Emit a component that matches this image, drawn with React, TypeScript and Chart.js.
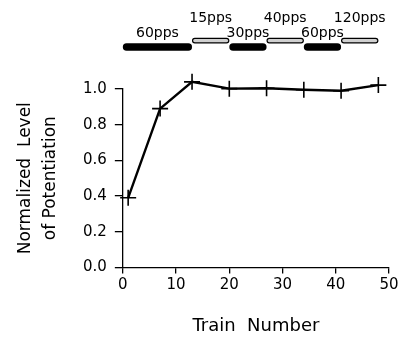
import React, { useEffect, useRef } from "react";
import { Chart, registerables } from "chart.js";

Chart.register(...registerables);

const trainNumbers = [1, 7, 13, 20, 27, 34, 41, 48];
const potentiation = [0.39, 0.89, 1.04, 1.002, 1.004, 0.996, 0.99, 1.022];
const xTicks = [0, 10, 20, 30, 40, 50];
const yTicks = [0, 0.2, 0.4, 0.6, 0.8, 1.0];

const protocolStarts = [0, 13, 20, 27, 34, 41];
const protocolEnds = [13, 20, 27, 34, 41, 48];
const protocolLabels = ["60pps", "15pps", "30pps", "40pps", "60pps", "120pps"];
const protocolFilled = [true, false, true, false, true, false];

const FONT = "'DejaVu Sans', sans-serif";

const protocolPlugin = {
  id: "protocolBars",
  afterDraw(chart: any) {
    const ctx = chart.ctx;
    const xs = chart.scales.x;
    ctx.save();
    protocolStarts.forEach((s, i) => {
      const x0 = xs.getPixelForValue(s);
      const x1 = xs.getPixelForValue(protocolEnds[i]);
      const filled = protocolFilled[i];
      ctx.beginPath();
      if (filled) {
        const y = 43.3, h = 7.5;
        ctx.roundRect(x0, y, x1 - x0, h, h / 2);
        ctx.fillStyle = "#000";
        ctx.fill();
      } else {
        const y = 38.3, h = 4.6;
        ctx.roundRect(x0 + 0.5, y, x1 - x0 - 1, h, h / 2);
        ctx.fillStyle = "#d0d0d0";
        ctx.fill();
        ctx.lineWidth = 1.2;
        ctx.strokeStyle = "#000";
        ctx.stroke();
      }
      ctx.fillStyle = "#000";
      ctx.font = "14px " + FONT;
      ctx.textAlign = "center";
      ctx.textBaseline = "alphabetic";
      const cx = (x0 + x1) / 2;
      ctx.fillText(protocolLabels[i], cx, filled ? 36.5 : 21.5);
    });
    ctx.restore();
  },
};

export default function App() {
  const ref = useRef<HTMLCanvasElement>(null);
  useEffect(() => {
    if (!ref.current) return;
    const chart = new Chart(ref.current, {
      type: "line",
      data: {
        datasets: [
          {
            data: trainNumbers.map((x, i) => ({ x, y: potentiation[i] })),
            borderColor: "#000",
            borderWidth: 2.4,
            pointStyle: "cross",
            pointRadius: 8,
            pointBorderWidth: 1.6,
            pointBorderColor: "#000",
            pointBackgroundColor: "#000",
            tension: 0,
            clip: false as any,
          },
        ],
      },
      options: {
        animation: false,
        responsive: false,
        layout: { padding: { top: 89, right: 19, left: 13, bottom: 0 } },
        plugins: { legend: { display: false }, tooltip: { enabled: false } },
        scales: {
          x: {
            type: "linear",
            min: 0,
            max: 50,
            afterBuildTicks: (axis: any) => {
              axis.ticks = xTicks.map((v) => ({ value: v }));
            },
            grid: { display: true, drawOnChartArea: false, drawTicks: true, tickLength: 6, color: "#000", lineWidth: 1.3 },
            border: { display: true, color: "#000", width: 1.3 },
            ticks: { color: "#000", font: { family: FONT, size: 15 }, padding: 3, maxRotation: 0 },
            title: {
              display: true,
              text: "Train  Number",
              color: "#000",
              font: { family: FONT, size: 18 },
              padding: { top: 18, bottom: 0 },
            },
          },
          y: {
            type: "linear",
            min: 0,
            max: 1.0,
            afterBuildTicks: (axis: any) => {
              axis.ticks = yTicks.map((v) => ({ value: v }));
            },
            grid: { display: true, drawOnChartArea: false, drawTicks: true, tickLength: 8, color: "#000", lineWidth: 1.3 },
            border: { display: true, color: "#000", width: 1.3 },
            ticks: {
              color: "#000",
              font: { family: FONT, size: 15 },
              padding: 8,
              callback: (v: any) => Number(v).toFixed(1),
            },
            title: {
              display: true,
              text: ["Normalized  Level", "of Potentiation"],
              color: "#000",
              font: { family: FONT, size: 17, lineHeight: 1.47 },
              padding: { top: 0, bottom: 12 },
            },
          },
        },
      },
      plugins: [protocolPlugin],
    });
    return () => chart.destroy();
  }, []);
  return (
    <div style={{ position: "fixed", left: 0, top: 0, width: 408, height: 337, background: "#fff" }}>
      <canvas ref={ref} width={408} height={337} />
    </div>
  );
}
